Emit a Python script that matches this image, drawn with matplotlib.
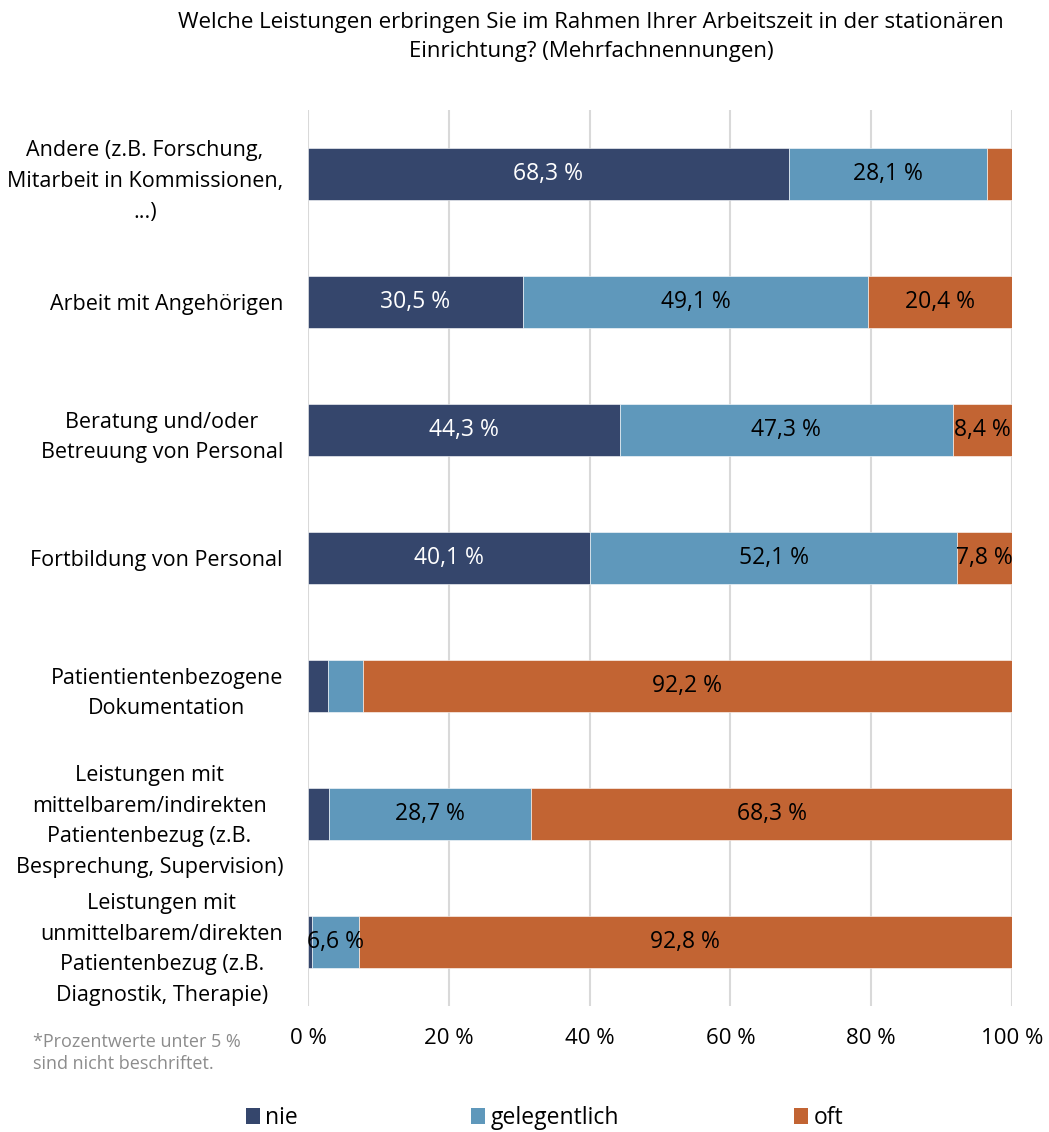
import matplotlib.pyplot as plt
from matplotlib.patches import Patch

plt.rcParams['font.family'] = ['Open Sans', 'DejaVu Sans']

categories = [
    'Andere (z.B. Forschung,\nMitarbeit in Kommissionen,\n...)',
    'Arbeit mit Angehörigen',
    'Beratung und/oder\nBetreuung von Personal',
    'Fortbildung von Personal',
    'Patientientenbezogene\nDokumentation',
    'Leistungen mit\nmittelbarem/indirekten\nPatientenbezug (z.B.\nBesprechung, Supervision)',
    'Leistungen mit\nunmittelbarem/direkten\nPatientenbezug (z.B.\nDiagnostik, Therapie)',
]
nie = [68.3, 30.5, 44.3, 40.1, 2.9, 3.0, 0.6]
gelegentlich = [28.1, 49.1, 47.3, 52.1, 4.9, 28.7, 6.6]
oft = [3.6, 20.4, 8.4, 7.8, 92.2, 68.3, 92.8]
series_names = ['nie', 'gelegentlich', 'oft']
colors = ['#35466C', '#5F98BB', '#C26433']
text_colors = ['white', 'black', 'black']

fig = plt.figure(figsize=(10.49, 11.32), dpi=100)
ax = fig.add_axes([308 / 1049, 1 - 1006 / 1132, 704 / 1049, 896 / 1132])

y = list(range(len(categories)))
left = [0.0] * len(categories)
for vals, name, col, tcol in zip([nie, gelegentlich, oft], series_names, colors, text_colors):
    bars = ax.barh(y, vals, left=left, height=0.406, color=col, edgecolor='white',
                   linewidth=0.4, label=name, zorder=3)
    for b, v in zip(bars, vals):
        if v >= 5:
            ax.text(b.get_x() + b.get_width() / 2, b.get_y() + b.get_height() / 2,
                    f'{v:.1f} %'.replace('.', ','), ha='center', va='center',
                    color=tcol, fontsize=16.5, zorder=4)
    left = [l + v for l, v in zip(left, vals)]

ax.set_xlim(0, 100)
ax.set_ylim(len(categories) - 0.5, -0.5)
ax.set_xticks([0, 20, 40, 60, 80, 100])
ax.set_xticklabels([f'{t} %' for t in [0, 20, 40, 60, 80, 100]], fontsize=16)
ax.set_yticks(y)
ax.set_yticklabels(categories, fontsize=15.5)
for t in ax.get_yticklabels():
    t.set_multialignment('center')
    t.set_linespacing(1.62)
ax.tick_params(axis='both', length=0)
ax.tick_params(axis='x', pad=16)
ax.tick_params(axis='y', pad=18)
ax.grid(axis='x', color='#D9D9D9', linewidth=1.5, zorder=0)
for s in ax.spines.values():
    s.set_visible(False)

fig.text(591 / 1049, 1 - 37 / 1132,
         'Welche Leistungen erbringen Sie im Rahmen Ihrer Arbeitszeit in der stationären\nEinrichtung? (Mehrfachnennungen)',
         ha='center', va='center', fontsize=16, linespacing=1.55)

fig.text(33 / 1049, 1 - 1053 / 1132, '*Prozentwerte unter 5 %\nsind nicht beschriftet.',
         ha='left', va='center', fontsize=13, color='#8C8C8C', linespacing=1.25)

legend_x = [246, 471, 794]
for name, col, lx in zip(series_names, colors, legend_x):
    fig.legend(handles=[Patch(facecolor=col, label=name)], loc='center left',
               bbox_to_anchor=(lx / 1049, 1 - 1118 / 1132), frameon=False,
               fontsize=16.5, handlelength=0.6, handleheight=0.65, handletextpad=0.25,
               borderpad=0, borderaxespad=0)

fig.savefig('out.png', dpi=100)
